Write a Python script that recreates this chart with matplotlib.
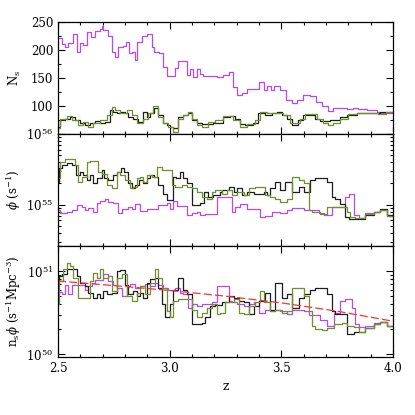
import numpy as np
import matplotlib
matplotlib.use('Agg')
import matplotlib.pyplot as plt
from matplotlib.ticker import MultipleLocator, LogLocator, NullFormatter

plt.rcParams['font.family'] = ['DejaVu Serif']
plt.rcParams['mathtext.fontset'] = 'dejavuserif'

# ---- N_s (top panel) ----
ns_z_purple = [2.500, 2.516, 2.530, 2.546, 2.566, 2.587, 2.599, 2.613, 2.631, 2.646,
               2.666, 2.688, 2.696, 2.703, 2.725, 2.740, 2.755, 2.770, 2.793, 2.804,
               2.819, 2.830, 2.845, 2.855, 2.875, 2.897, 2.919, 2.930, 2.954, 2.972,
               2.987, 3.024, 3.039, 3.079, 3.091, 3.106, 3.121, 3.136, 3.151, 3.210,
               3.240, 3.267, 3.285, 3.300, 3.322, 3.345, 3.375, 3.401, 3.422, 3.434,
               3.452, 3.467, 3.494, 3.521, 3.546, 3.572, 3.599, 3.628, 3.655, 3.681,
               3.710, 3.733, 3.793, 3.822, 3.845, 3.882, 3.927, 3.942, 4.000]
ns_purple = [221, 210, 205, 212, 229, 197, 212, 209, 233, 224,
             234, 238, 242, 236, 225, 197, 188, 206, 207, 215,
             194, 197, 182, 215, 225, 229, 206, 197, 194, 170,
             154, 167, 180, 155, 166, 151, 166, 157, 154, 152,
             155, 160, 134, 120, 123, 130, 130, 142, 129, 136,
             129, 136, 128, 110, 106, 111, 120, 117, 108, 100,
             91, 96, 94, 96, 94, 93, 90, 88, 88]

ns_z_black = [2.500, 2.509, 2.531, 2.554, 2.576, 2.599, 2.621, 2.643, 2.666, 2.688,
              2.710, 2.733, 2.748, 2.763, 2.778, 2.800, 2.815, 2.837, 2.860, 2.882,
              2.897, 2.912, 2.930, 2.949, 2.972, 2.987, 3.001, 3.016, 3.039, 3.061,
              3.084, 3.099, 3.121, 3.143, 3.196, 3.240, 3.270, 3.293, 3.315, 3.337,
              3.375, 3.397, 3.427, 3.457, 3.479, 3.501, 3.524, 3.546, 3.576, 3.599,
              3.651, 3.673, 3.718, 3.763, 3.793, 3.837, 3.882, 3.942, 4.000]
ns_black = [63, 75, 77, 81, 75, 69, 66, 69, 74, 70,
            72, 93, 90, 87, 90, 87, 81, 76, 72, 90,
            81, 87, 96, 84, 70, 66, 63, 61, 81, 84,
            87, 75, 70, 68, 70, 81, 82, 77, 68, 66,
            69, 88, 84, 88, 90, 84, 77, 66, 75, 84,
            77, 74, 75, 81, 84, 87, 88, 90, 90]

ns_z_green = [2.500, 2.509, 2.539, 2.561, 2.591, 2.613, 2.636, 2.658, 2.688, 2.718,
              2.740, 2.755, 2.778, 2.807, 2.830, 2.852, 2.882, 2.904, 2.927, 2.949,
              2.972, 2.994, 3.016, 3.039, 3.061, 3.084, 3.099, 3.121, 3.143, 3.173,
              3.203, 3.240, 3.285, 3.315, 3.345, 3.382, 3.404, 3.434, 3.479, 3.509,
              3.539, 3.584, 3.606, 3.658, 3.688, 3.710, 3.733, 3.763, 3.800, 3.837,
              3.882, 3.934, 3.970, 4.000]
ns_green = [61, 77, 82, 75, 66, 72, 63, 69, 75, 84,
            98, 93, 87, 93, 84, 69, 77, 88, 100, 81,
            69, 62, 54, 77, 84, 90, 77, 66, 63, 72,
            75, 82, 75, 63, 68, 75, 90, 88, 87, 84,
            69, 77, 86, 76, 69, 66, 70, 77, 86, 88,
            87, 86, 90, 90]

# ---- phi (middle panel), units of 1e55 s^-1 ----
phi_z_purple = [2.500, 2.509, 2.539, 2.561, 2.584, 2.606, 2.621, 2.636, 2.658, 2.673,
                2.688, 2.710, 2.725, 2.748, 2.770, 2.785, 2.815, 2.830, 2.845, 2.867,
                2.897, 2.949, 2.987, 3.001, 3.016, 3.031, 3.076, 3.099, 3.121, 3.136,
                3.158, 3.210, 3.279, 3.294, 3.316, 3.346, 3.406, 3.428, 3.458, 3.496,
                3.525, 3.548, 3.600, 3.667, 3.690, 3.727, 3.787, 3.801, 3.824, 3.846,
                3.876, 3.913, 3.943, 3.973, 4.000]
phi_purple = [0.83, 0.75, 0.79, 0.84, 0.98, 0.93, 0.83, 0.9, 0.8, 1.07,
              1.11, 1.19, 1.09, 1.07, 0.75, 0.86, 0.93, 0.88, 1.03, 0.82,
              0.88, 0.98, 1.07, 0.88, 1.11, 0.95, 0.71, 0.75, 0.79, 0.71,
              0.73, 1.28, 0.79, 0.93, 1.03, 0.88, 0.66, 0.7, 0.79, 0.75,
              0.84, 0.91, 0.83, 0.75, 0.71, 0.93, 1.28, 1.43, 0.71, 0.65,
              0.75, 0.79, 0.83, 0.7, 0.7]

phi_z_black = [2.500, 2.506, 2.516, 2.539, 2.561, 2.581, 2.599, 2.613, 2.631, 2.643,
               2.658, 2.673, 2.696, 2.706, 2.725, 2.748, 2.766, 2.781, 2.796, 2.815,
               2.830, 2.845, 2.864, 2.879, 2.897, 2.912, 2.930, 2.949, 2.972, 2.987,
               3.013, 3.028, 3.046, 3.061, 3.076, 3.099, 3.136, 3.154, 3.173, 3.196,
               3.225, 3.234, 3.264, 3.287, 3.301, 3.324, 3.346, 3.376, 3.421, 3.436,
               3.451, 3.473, 3.496, 3.518, 3.548, 3.578, 3.600, 3.630, 3.652, 3.704,
               3.727, 3.742, 3.764, 3.787, 3.801, 3.876, 3.913, 3.943, 3.973, 4.000]
phi_black = [2.1, 3.25, 3.6, 3.9, 3.6, 2.65, 2.9, 2.65, 2.2, 2.6,
             2.0, 2.35, 3.05, 2.35, 2.2, 2.6, 2.9, 3.25, 2.9, 2.0,
             1.7, 1.9, 2.2, 2.0, 2.35, 2.65, 2.5, 1.9, 1.43, 1.15,
             2.5, 2.35, 2.9, 2.35, 2.0, 0.98, 1.05, 1.5, 1.3, 1.36,
             1.5, 1.6, 1.8, 1.5, 1.7, 1.36, 1.5, 1.43, 1.5, 1.36,
             1.7, 2.1, 1.6, 2.1, 1.5, 1.8, 1.5, 2.2, 2.35, 2.1,
             1.3, 1.22, 1.03, 0.67, 0.63, 0.71, 0.79, 0.88, 0.71, 0.71]

phi_z_green = [2.500, 2.509, 2.531, 2.554, 2.576, 2.591, 2.606, 2.628, 2.643, 2.658,
               2.681, 2.696, 2.718, 2.740, 2.763, 2.778, 2.800, 2.822, 2.837, 2.852,
               2.867, 2.882, 2.897, 2.919, 2.942, 2.964, 3.009, 3.024, 3.054, 3.076,
               3.099, 3.121, 3.143, 3.166, 3.188, 3.203, 3.234, 3.257, 3.279, 3.301,
               3.331, 3.354, 3.384, 3.428, 3.451, 3.473, 3.496, 3.525, 3.548, 3.578,
               3.600, 3.625, 3.637, 3.675, 3.704, 3.794, 3.809, 3.831, 3.876, 3.913,
               3.943, 3.973, 4.000]
phi_green = [2.35, 4.0, 4.4, 4.5, 3.6, 2.1, 2.5, 4.0, 4.2, 4.1,
             2.9, 2.75, 1.9, 1.7, 2.9, 2.6, 2.2, 1.7, 1.8, 2.35,
             2.5, 2.1, 2.65, 2.5, 3.45, 3.05, 1.9, 1.8, 1.9, 1.8,
             1.7, 1.5, 1.3, 1.22, 1.5, 1.6, 1.43, 1.6, 1.36, 1.5,
             1.36, 1.7, 1.8, 1.36, 1.3, 1.22, 1.09, 1.22, 2.5, 2.2,
             2.05, 0.83, 0.8, 0.74, 0.92, 0.79, 0.67, 0.65, 0.74, 0.8,
             0.83, 0.7, 0.7]

# ---- n_s phi (bottom panel), units of 1e50 s^-1 Mpc^-3 ----
nphi_z_purple = [2.500, 2.516, 2.531, 2.546, 2.561, 2.621, 2.636, 2.651, 2.666, 2.703,
                 2.725, 2.748, 2.763, 2.785, 2.807, 2.822, 2.845, 2.867, 2.890, 2.912,
                 2.934, 2.949, 2.972, 2.994, 3.024, 3.046, 3.061, 3.084, 3.099, 3.121,
                 3.143, 3.188, 3.210, 3.264, 3.279, 3.301, 3.331, 3.354, 3.376, 3.399,
                 3.428, 3.451, 3.473, 3.496, 3.525, 3.548, 3.600, 3.622, 3.675, 3.704,
                 3.734, 3.764, 3.787, 3.816, 3.831, 3.846, 3.876, 3.913, 3.943, 3.973,
                 4.000]
nphi_purple = [5.6, 5.25, 6.9, 5.25, 6.9, 6.0, 6.6, 7.2, 7.9, 9.3,
               7.6, 6.9, 6.3, 5.0, 6.6, 7.05, 6.3, 6.6, 7.05, 6.6,
               7.2, 6.9, 6.3, 6.0, 6.3, 5.5, 5.25, 3.65, 4.0, 3.8,
               4.0, 4.2, 6.6, 4.4, 4.2, 4.0, 3.8, 4.0, 4.2, 3.18,
               3.45, 3.3, 3.45, 3.3, 3.05, 3.45, 3.3, 2.95, 2.57, 2.2,
               3.18, 4.4, 4.6, 3.65, 2.3, 2.14, 2.2, 2.4, 2.48, 2.2,
               2.2]

nphi_z_black = [2.500, 2.506, 2.516, 2.539, 2.584, 2.599, 2.621, 2.636, 2.658, 2.673,
                2.688, 2.703, 2.718, 2.740, 2.763, 2.778, 2.800, 2.815, 2.837, 2.852,
                2.867, 2.882, 2.897, 2.912, 2.934, 2.949, 2.964, 2.979, 3.001, 3.016,
                3.039, 3.061, 3.076, 3.099, 3.143, 3.158, 3.181, 3.203, 3.233, 3.264,
                3.287, 3.309, 3.331, 3.354, 3.376, 3.399, 3.428, 3.451, 3.473, 3.503,
                3.525, 3.548, 3.578, 3.600, 3.630, 3.652, 3.704, 3.727, 3.742, 3.794,
                3.824, 3.876, 3.913, 3.943, 3.973, 4.000]
nphi_black = [6.9, 8.7, 9.1, 10.5, 8.7, 7.2, 6.6, 5.5, 4.8, 5.25,
              4.8, 5.75, 5.25, 5.5, 10.0, 10.2, 6.9, 5.25, 5.75, 5.0,
              5.5, 4.8, 7.2, 7.95, 8.3, 6.3, 4.0, 2.78, 4.0, 6.0,
              8.3, 6.0, 5.25, 2.3, 2.4, 2.78, 3.8, 3.9, 4.2, 5.0,
              4.8, 4.4, 4.2, 3.05, 3.8, 4.4, 5.5, 3.45, 7.2, 4.8,
              5.25, 3.65, 4.8, 5.25, 6.0, 6.3, 5.25, 3.3, 3.05, 1.75,
              1.88, 2.1, 2.3, 2.48, 2.2, 2.2]

nphi_z_green = [2.500, 2.503, 2.524, 2.539, 2.554, 2.569, 2.591, 2.643, 2.658, 2.673,
                2.688, 2.703, 2.725, 2.740, 2.763, 2.785, 2.807, 2.830, 2.852, 2.867,
                2.890, 2.912, 2.934, 2.949, 2.964, 2.987, 3.001, 3.016, 3.039, 3.099,
                3.121, 3.143, 3.166, 3.188, 3.210, 3.225, 3.248, 3.287, 3.309, 3.331,
                3.354, 3.384, 3.406, 3.421, 3.451, 3.473, 3.503, 3.525, 3.548, 3.600,
                3.622, 3.637, 3.652, 3.682, 3.704, 3.734, 3.772, 3.794, 3.824, 3.846,
                3.876, 3.913, 3.943, 3.973, 4.000]
nphi_green = [4.0, 7.6, 10.5, 12.6, 11.5, 8.3, 4.8, 7.6, 9.5, 8.3,
              10.5, 8.3, 8.7, 5.75, 8.3, 9.1, 5.0, 4.4, 5.5, 6.6,
              5.25, 7.2, 10.5, 8.3, 6.3, 3.3, 2.78, 4.4, 4.6, 3.45,
              2.78, 3.18, 3.65, 4.0, 3.05, 3.18, 4.2, 4.6, 3.18, 3.05,
              3.8, 4.2, 5.75, 4.2, 3.3, 3.45, 3.18, 3.3, 6.3, 5.0,
              3.3, 2.2, 2.0, 1.95, 2.1, 2.3, 2.4, 2.2, 2.14, 1.88,
              2.1, 2.3, 2.48, 2.2, 2.2]

# red dashed fit line, read at a few redshifts (units of 1e50)
fit_z = [2.5, 2.75, 3.0, 3.25, 3.5, 3.75, 4.0]
fit_nphi = [7.6, 6.7, 5.85, 5.0, 4.15, 3.3, 2.5]

c_purple = '#b34af2'
c_black = '#1e1e1e'
c_green = '#6f8f2c'
lw = 0.9

fig = plt.figure(figsize=(4.15, 4.15), dpi=100)
left, width = 0.1398, 0.8072
ax1 = fig.add_axes([left, 0.6771, width, 0.2699])
ax2 = fig.add_axes([left, 0.4072, width, 0.2699])
ax3 = fig.add_axes([left, 0.1398, width, 0.2674])

# top: N_s
ax1.step(ns_z_purple, ns_purple, where='post', color=c_purple, lw=lw)
ax1.step(ns_z_black, ns_black, where='post', color=c_black, lw=lw)
ax1.step(ns_z_green, ns_green, where='post', color=c_green, lw=lw)
ax1.set_ylim(50, 250)
ax1.yaxis.set_minor_locator(MultipleLocator(25))
ax1.set_yticks([50, 100, 150, 200, 250])
ax1.set_yticklabels(['', '100', '150', '200', '250'])
ax1.set_ylabel(r'N$_{\rm s}$')

# middle: phi
ax2.step(phi_z_purple, np.array(phi_purple) * 1e55, where='post', color=c_purple, lw=lw)
ax2.step(phi_z_black, np.array(phi_black) * 1e55, where='post', color=c_black, lw=lw)
ax2.step(phi_z_green, np.array(phi_green) * 1e55, where='post', color=c_green, lw=lw)
ax2.set_yscale('log')
ax2.set_ylim(2.6e54, 1e56)
ax2.set_ylabel(r'$\phi$ (s$^{-1}$)')

# bottom: n_s phi
ax3.step(nphi_z_purple, np.array(nphi_purple) * 1e50, where='post', color=c_purple, lw=lw)
ax3.step(nphi_z_black, np.array(nphi_black) * 1e50, where='post', color=c_black, lw=lw)
ax3.step(nphi_z_green, np.array(nphi_green) * 1e50, where='post', color=c_green, lw=lw)
ax3.plot(fit_z, np.array(fit_nphi) * 1e50, color='#ff3030', lw=lw, ls=(0, (6.5, 2.5)))
ax3.set_yscale('log')
ax3.set_ylim(9.3e49, 2e51)
ax3.set_ylabel(r'n$_{\rm s}\phi$ (s$^{-1}$Mpc$^{-3}$)')
ax3.set_xlabel('z', fontsize=9)

for ax in (ax2, ax3):
    ax.yaxis.set_major_locator(LogLocator(base=10))
    ax.yaxis.set_minor_locator(LogLocator(base=10, subs=np.arange(2, 10)))
    ax.yaxis.set_minor_formatter(NullFormatter())

for ax in (ax1, ax2, ax3):
    ax.set_xlim(2.5, 4.0)
    ax.xaxis.set_major_locator(MultipleLocator(0.5))
    ax.xaxis.set_minor_locator(MultipleLocator(0.1))
    ax.tick_params(which='both', direction='in', top=True, right=True, labelsize=8.5)
    ax.tick_params(which='major', length=5, width=0.8)
    ax.tick_params(which='minor', length=2.5, width=0.8)
    for s in ax.spines.values():
        s.set_linewidth(0.9)
    ax.yaxis.label.set_fontsize(8.5)
    ax.yaxis.set_label_coords(-0.105, 0.5)

ax1.tick_params(labelbottom=False)
ax2.tick_params(labelbottom=False)
ax3.set_xticks([2.5, 3.0, 3.5, 4.0])
ax3.set_xticklabels(['2.5', '3.0', '3.5', '4.0'])

fig.savefig('out.png', dpi=100)
